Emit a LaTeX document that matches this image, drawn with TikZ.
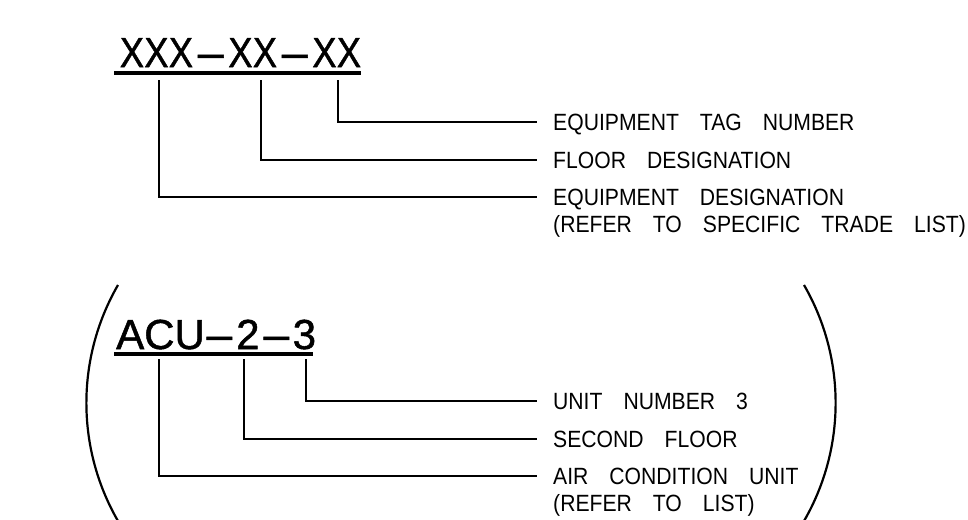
\documentclass[tikz,border=0pt]{standalone}
\usepackage{graphicx}
\usepackage{fontspec}
\setmainfont{Liberation Sans}
\newfontfamily\lblfam[FakeStretch=0.9]{Liberation Sans}
\newfontfamily\bigfam[FakeBold=1.2]{Liberation Sans}
\newcommand\lblfont{\lblfam\fontsize{23.5}{27}\selectfont\setlength{\spaceskip}{21pt}}
\newcommand\bigfont{\bigfam\fontsize{42}{50}\selectfont}
\newcommand\xc{\makebox[24.5pt]{\scalebox{0.86}[1]{X}}}
\newcommand\dash{\scalebox{1.1}[1]{–}}
\newcommand\dc{\makebox[35pt]{\dash}}
\newcommand\cc[2]{\makebox[#1pt]{#2}}
\begin{document}
\begin{tikzpicture}[x=1pt,y=1pt,
  lbl/.style={anchor=base west, inner sep=0pt, font=\lblfont},
  big/.style={anchor=base west, inner sep=0pt, font=\bigfont},
  leader/.style={line width=2pt},
  uline/.style={line width=3.5pt},
  paren/.style={line width=2.2pt}]
\useasboundingbox (0,0) rectangle (968,-519);
% ---- top example ----
\node[big] (tag) at (119.5,-67) {\xc\xc\xc\dc\xc\xc\dc\xc\xc};
\coordinate (ulA) at (114,-73);
\coordinate (ulB) at (361,-73);
\draw[uline] (ulA) -- (ulB);
\coordinate (s1) at (338,-80);
\coordinate (s2) at (261,-80);
\coordinate (s3) at (159,-80);
\coordinate (e1) at (537,-121.5);
\coordinate (e2) at (537,-159.5);
\coordinate (e3) at (537,-196.5);
\draw[leader] (s1) |- (e1);
\draw[leader] (s2) |- (e2);
\draw[leader] (s3) |- (e3);
\node[lbl] (t1) at (553,-130) {EQUIPMENT TAG NUMBER};
\node[lbl] (t2) at (553,-168) {FLOOR DESIGNATION};
\node[lbl] (t3) at (553,-205) {EQUIPMENT DESIGNATION};
\node[lbl] (t3b) at (553,-232) {(REFER TO SPECIFIC TRADE LIST)};
% ---- bottom example ----
\node[big] (acu) at (116,-349) {ACU\cc{29}{\dash}\cc{28}{2}\cc{29}{\dash}\cc{27}{3}};
\coordinate (ulC) at (114,-354);
\coordinate (ulD) at (313,-354);
\draw[uline] (ulC) -- (ulD);
\coordinate (b1) at (306,-359);
\coordinate (b2) at (244,-359);
\coordinate (b3) at (159,-359);
\coordinate (f1) at (537,-401);
\coordinate (f2) at (537,-439);
\coordinate (f3) at (537,-476);
\draw[leader] (b1) |- (f1);
\draw[leader] (b2) |- (f2);
\draw[leader] (b3) |- (f3);
\node[lbl] (u1) at (553,-409.5) {UNIT NUMBER 3};
\node[lbl] (u2) at (553,-447.5) {SECOND FLOOR};
\node[lbl] (u3) at (553,-484.5) {AIR CONDITION UNIT};
\node[lbl] (u3b) at (553,-511.5) {(REFER TO LIST)};
% ---- enclosing parentheses ----
\begin{scope}
\clip (0,0) rectangle (968,-519);
\draw[paren] (118,-285) arc[start angle=150, end angle=212, radius=236];
\draw[paren] (804,-285) arc[start angle=30, end angle=-32, radius=236];
\end{scope}
\end{tikzpicture}
\end{document}
